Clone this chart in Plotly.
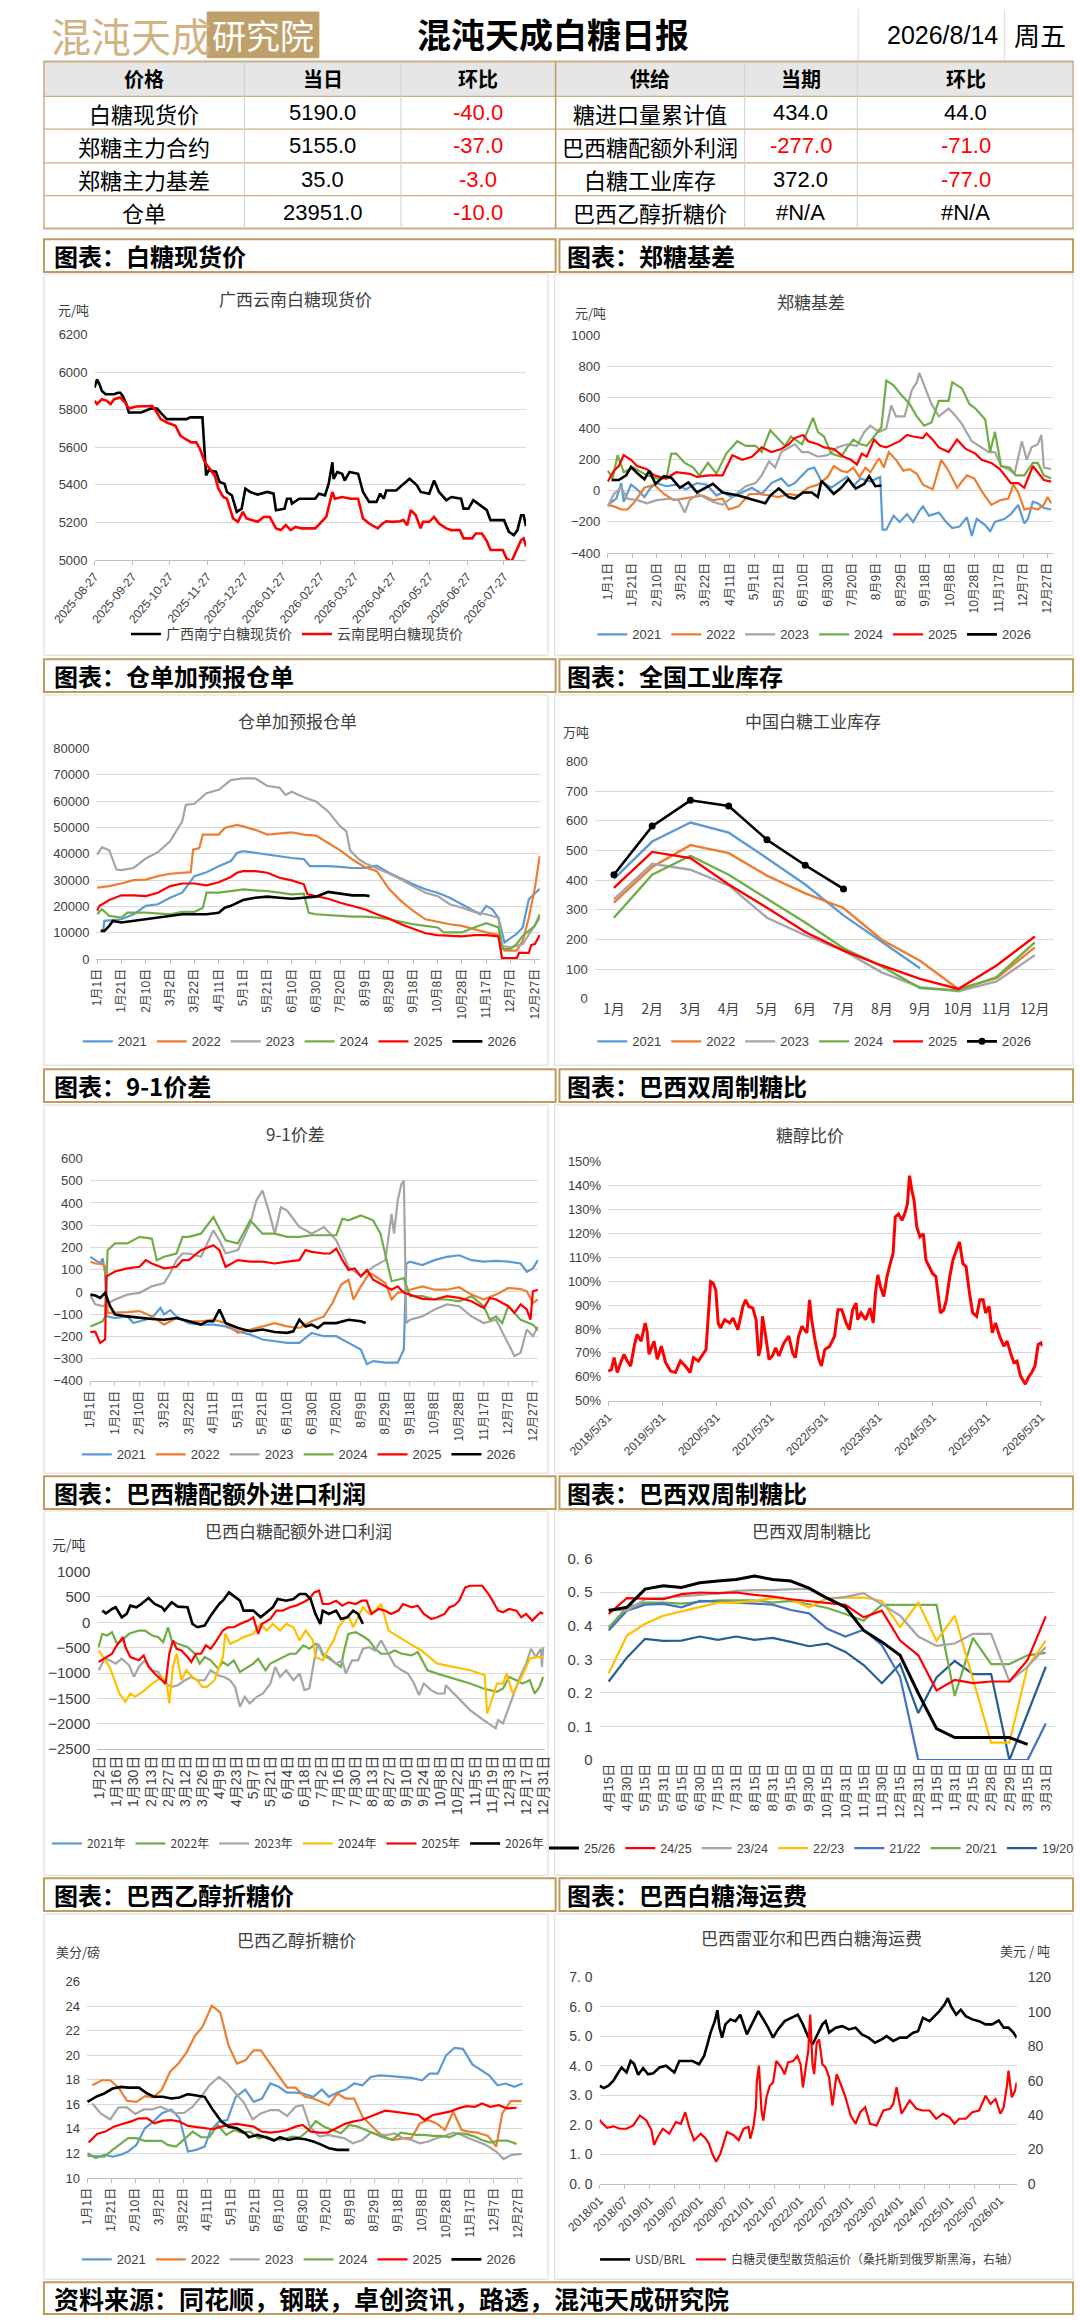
import plotly.graph_objects as go

# ======================= DATA =======================
# --- summary table ---
tbl_left_names = ["白糖现货价", "郑糖主力合约", "郑糖主力基差", "仓单"]
tbl_left_today = [5190.0, 5155.0, 35.0, 23951.0]
tbl_left_chg = [-40.0, -37.0, -3.0, -10.0]
tbl_right_names = ["糖进口量累计值", "巴西糖配额外利润", "白糖工业库存", "巴西乙醇折糖价"]
tbl_right_now = [434.0, -277.0, 372.0, None]
tbl_right_chg = [44.0, -71.0, -77.0, None]
report_date = "2026/8/14"
report_weekday = "周五"

# --- seasonal tick labels (day of year) ---
season_tick_days = [1, 21, 41, 61, 81, 101, 121, 141, 161, 181, 201, 221, 241, 261, 281, 301, 321, 341, 361]
season_tick_text = ["1月1日", "1月21日", "2月10日", "3月2日", "3月22日", "4月11日", "5月1日", "5月21日",
                    "6月10日", "6月30日", "7月20日", "8月9日", "8月29日", "9月18日", "10月8日", "10月28日",
                    "11月17日", "12月7日", "12月27日"]
years = ["2021", "2022", "2023", "2024", "2025", "2026"]

# --- chart 1: spot prices ---
c1_tick_dates = ["2025-08-27", "2025-09-27", "2025-10-27", "2025-11-27", "2025-12-27", "2026-01-27",
                 "2026-02-27", "2026-03-27", "2026-04-27", "2026-05-27", "2026-06-27", "2026-07-27"]
c1_nn_dates = ["2025-08-27", "2025-08-29", "2025-08-31", "2025-09-02", "2025-09-05", "2025-09-12", "2025-09-15",
               "2025-09-17", "2025-09-19", "2025-09-22", "2025-09-24", "2025-10-04", "2025-10-12", "2025-10-17",
               "2025-10-21", "2025-10-25", "2025-11-10", "2025-11-13", "2025-11-23", "2025-11-25", "2025-11-26",
               "2025-11-28", "2025-12-04", "2025-12-07", "2025-12-11", "2025-12-13", "2025-12-17", "2025-12-21",
               "2025-12-25", "2025-12-28", "2026-01-01", "2026-01-07", "2026-01-15", "2026-01-20", "2026-01-22",
               "2026-01-29", "2026-01-31", "2026-02-03", "2026-02-04", "2026-02-10", "2026-02-23", "2026-02-26",
               "2026-03-03", "2026-03-06", "2026-03-09", "2026-03-10", "2026-03-13", "2026-03-17", "2026-03-19",
               "2026-03-23", "2026-03-30", "2026-04-03", "2026-04-08", "2026-04-14", "2026-04-17", "2026-04-20",
               "2026-04-22", "2026-04-30", "2026-05-05", "2026-05-11", "2026-05-17", "2026-05-20", "2026-05-27",
               "2026-05-31", "2026-06-04", "2026-06-10", "2026-06-14", "2026-06-22", "2026-06-24", "2026-06-28",
               "2026-07-02", "2026-07-08", "2026-07-13", "2026-07-16", "2026-07-27", "2026-07-31", "2026-08-04",
               "2026-08-07", "2026-08-10", "2026-08-12", "2026-08-14"]
c1_nn_vals = [5918, 5962, 5935, 5900, 5882, 5882, 5890, 5890, 5873, 5830,
              5785, 5785, 5806, 5806, 5776, 5750, 5750, 5759, 5759, 5556,
              5450, 5476, 5470, 5415, 5406, 5362, 5344, 5256, 5273, 5379,
              5362, 5348, 5362, 5353, 5265, 5273, 5326, 5326, 5300, 5326,
              5326, 5353, 5344, 5406, 5520, 5432, 5468, 5459, 5423, 5468,
              5459, 5362, 5309, 5309, 5353, 5326, 5370, 5370, 5397, 5432,
              5397, 5362, 5353, 5423, 5362, 5318, 5335, 5326, 5273, 5273,
              5318, 5291, 5265, 5212, 5212, 5150, 5132, 5159, 5238, 5238, 5180]
c1_km_dates = ["2025-08-27", "2025-08-29", "2025-09-02", "2025-09-06", "2025-09-09", "2025-09-12", "2025-09-17",
               "2025-09-21", "2025-09-24", "2025-09-30", "2025-10-13", "2025-10-16", "2025-10-20", "2025-10-25",
               "2025-11-01", "2025-11-05", "2025-11-09", "2025-11-14", "2025-11-18", "2025-11-21", "2025-11-25",
               "2025-11-29", "2025-12-03", "2025-12-06", "2025-12-10", "2025-12-13", "2025-12-18", "2025-12-22",
               "2025-12-26", "2025-12-29", "2026-01-07", "2026-01-12", "2026-01-17", "2026-01-22", "2026-01-26",
               "2026-01-30", "2026-02-03", "2026-02-07", "2026-02-12", "2026-02-23", "2026-02-27", "2026-03-04",
               "2026-03-09", "2026-03-11", "2026-03-17", "2026-03-24", "2026-03-30", "2026-04-03", "2026-04-08",
               "2026-04-15", "2026-04-19", "2026-04-22", "2026-04-27", "2026-05-03", "2026-05-06", "2026-05-09",
               "2026-05-12", "2026-05-16", "2026-05-20", "2026-05-22", "2026-05-27", "2026-05-31", "2026-06-04",
               "2026-06-10", "2026-06-14", "2026-06-21", "2026-06-24", "2026-07-01", "2026-07-04", "2026-07-09",
               "2026-07-13", "2026-07-16", "2026-07-26", "2026-07-29", "2026-08-02", "2026-08-07", "2026-08-10",
               "2026-08-12", "2026-08-14"]
c1_km_vals = [5847, 5830, 5856, 5847, 5830, 5856, 5865, 5838, 5806, 5817,
              5820, 5794, 5750, 5732, 5715, 5662, 5644, 5626, 5626, 5591,
              5520, 5485, 5450, 5379, 5335, 5326, 5221, 5203, 5256, 5221,
              5203, 5229, 5229, 5168, 5159, 5185, 5159, 5176, 5168, 5168,
              5194, 5229, 5362, 5326, 5335, 5326, 5326, 5221, 5194, 5168,
              5194, 5206, 5203, 5206, 5212, 5185, 5265, 5238, 5168, 5203,
              5203, 5229, 5194, 5168, 5159, 5159, 5115, 5115, 5141, 5141,
              5100, 5053, 5053, 5009, 4990, 5062, 5106, 5115, 5071]

# --- chart 2: Zhengzhou basis (day of year, value) ---
c2_days = {
    "2021": [1, 8, 12, 14, 20, 25, 31, 36, 41, 49, 57, 65, 74, 82, 90, 95, 103, 111, 119, 127, 135, 143, 149, 154, 160,
             165, 170, 176, 184, 192, 197, 202, 208, 216, 221, 224, 226, 229, 235, 240, 246, 251, 256, 259, 264, 272,
             278, 283, 289, 295, 299, 303, 310, 314, 318, 326, 331, 337, 342, 345, 349, 353, 358, 364],
    "2022": [1, 6, 12, 17, 22, 31, 39, 47, 55, 63, 71, 79, 87, 95, 100, 108, 117, 125, 133, 141, 149, 157, 165, 173,
             181, 186, 192, 197, 202, 207, 212, 216, 223, 227, 231, 237, 243, 248, 254, 259, 267, 274, 280, 287, 295,
             301, 307, 315, 322, 329, 333, 337, 342, 348, 353, 358, 361, 364],
    "2023": [1, 6, 12, 17, 25, 33, 41, 52, 59, 64, 68, 75, 82, 87, 95, 106, 114, 122, 127, 133, 138, 143, 149, 154, 160,
             165, 173, 181, 189, 197, 205, 211, 216, 223, 229, 233, 237, 244, 250, 254, 256, 260, 266, 272, 280, 286,
             291, 299, 307, 313, 318, 323, 329, 334, 340, 344, 348, 353, 356, 358, 364],
    "2024": [1, 5, 9, 14, 22, 33, 41, 49, 53, 57, 64, 71, 76, 83, 90, 98, 107, 114, 122, 127, 134, 141, 146, 151, 160,
             169, 173, 178, 184, 192, 197, 202, 208, 213, 219, 225, 229, 235, 241, 248, 254, 260, 266, 272, 280, 283,
             291, 297, 302, 310, 314, 318, 323, 330, 335, 342, 349, 353, 358, 364],
    "2025": [1, 6, 10, 14, 20, 25, 33, 39, 49, 57, 68, 74, 84, 95, 103, 111, 119, 127, 135, 143, 149, 154, 161, 165,
             173, 178, 186, 194, 200, 205, 209, 213, 219, 224, 229, 235, 240, 246, 251, 259, 262, 267, 272, 280, 287,
             294, 302, 307, 315, 322, 326, 331, 337, 342, 349, 353, 358, 364],
    "2026": [4, 10, 16, 20, 25, 31, 35, 40, 47, 53, 60, 67, 74, 80, 87, 95, 102, 108, 117, 125, 130, 134, 141, 149,
             154, 161, 168, 173, 176, 182, 186, 192, 198, 204, 211, 215, 220, 225],
}
c2_vals = {
    "2021": [-90, -50, 50, -70, 40, 10, -40, 20, 50, 30, 40, 10, 50, 40, -30, -10, -40, -10, 20, -20, 50, 80, 30, 50,
             100, 140, 150, 60, 20, 60, 90, 30, 80, 60, 80, 90, -250, -250, -160, -200, -150, -200, -130, -100, -160,
             -140, -200, -240, -230, -170, -290, -180, -220, -260, -200, -180, -150, -90, -210, -180, -70, -80, -110,
             -120],
    "2022": [-90, -100, -120, -120, -80, 20, 40, -20, -60, -50, -40, -30, -60, -50, -120, -100, -20, -20, -30, -40, -20,
             -30, 20, 40, 90, 160, 130, 120, 150, 90, 150, 120, 210, 150, 250, 200, 130, 140, 110, 40, 10, 200, 130, 20,
             100, 80, 0, -90, -60, -50, 40, -10, -120, -110, -120, -90, -40, -80],
    "2023": [-100, -20, 20, -50, -60, -80, -60, -50, -60, -140, -60, -20, -50, -70, -90, -20, 30, 50, 100, 190, 150,
             250, 280, 300, 250, 250, 220, 230, 280, 300, 290, 380, 420, 380, 400, 550, 480, 480, 650, 700, 760, 680,
             560, 480, 530, 480, 430, 320, 280, 250, 250, 160, 140, 110, 320, 200, 280, 300, 360, 150, 140],
    "2024": [130, 80, 230, 120, 150, 100, 80, 80, 240, 240, 180, 150, 100, 180, 110, 240, 320, 290, 290, 250, 390, 330,
             290, 350, 300, 470, 380, 350, 240, 220, 280, 330, 300, 290, 350, 410, 710, 680, 620, 560, 480, 420, 440,
             580, 580, 700, 660, 560, 530, 460, 250, 380, 160, 150, 100, 100, 180, 180, 100, 80],
    "2025": [60, 130, 160, 230, 200, 160, 140, 100, 80, 120, 110, 90, 100, 100, 230, 200, 220, 280, 250, 270, 300, 340,
             360, 320, 300, 280, 270, 220, 200, 170, 240, 220, 330, 290, 280, 300, 320, 360, 350, 340, 370, 330, 280,
             250, 330, 270, 240, 200, 180, 140, 100, 50, 50, 20, 160, 120, 70, 60],
    "2026": [70, 70, 100, 155, 115, 75, 130, 45, 95, 85, 20, 55, -10, 15, 45, -10, -20, -30, -50, -70, -80, -30, 15,
             -40, -50, -10, -10, -40, 65, 15, -20, 20, 75, 15, 45, 95, 30, 35],
}

# --- chart 3: warehouse receipts + forecast ---
c3_days = {
    "2021": [4, 6, 7, 21, 31, 41, 51, 61, 71, 81, 91, 101, 111, 116, 121, 131, 141, 151, 161, 171, 176, 181, 191, 201,
             211, 221, 231, 241, 251, 261, 271, 281, 291, 301, 311, 316, 321, 326, 331, 336, 346, 351, 356, 361, 365],
    "2022": [1, 11, 21, 31, 41, 51, 61, 71, 78, 80, 85, 88, 101, 106, 116, 121, 131, 141, 151, 161, 171, 181, 191, 201,
             211, 221, 231, 236, 241, 251, 261, 271, 281, 291, 301, 311, 321, 331, 336, 346, 351, 356, 361, 365],
    "2023": [1, 5, 11, 17, 21, 31, 41, 51, 61, 71, 74, 81, 91, 101, 111, 121, 131, 141, 151, 156, 161, 171, 181, 191,
             201, 206, 209, 216, 221, 231, 241, 251, 261, 271, 281, 291, 301, 311, 321, 331, 334, 341, 351, 356, 361,
             365],
    "2024": [1, 5, 11, 21, 26, 41, 61, 71, 81, 88, 91, 101, 111, 121, 131, 141, 151, 161, 171, 175, 181, 191, 201, 211,
             221, 231, 241, 251, 261, 271, 281, 286, 301, 311, 321, 331, 334, 341, 346, 351, 356, 361, 365],
    "2025": [1, 3, 11, 21, 31, 41, 51, 61, 71, 81, 91, 101, 111, 116, 121, 131, 141, 151, 161, 171, 174, 181, 191, 201,
             211, 221, 231, 241, 251, 261, 271, 281, 291, 301, 311, 321, 331, 334, 346, 348, 356, 358, 361, 365],
    "2026": [4, 7, 11, 14, 21, 31, 41, 51, 61, 71, 81, 91, 101, 106, 111, 121, 131, 141, 151, 161, 171, 181, 191, 201,
             211, 221, 225],
}
c3_vals = {
    "2021": [10700, 10700, 14500, 15100, 17000, 20200, 20800, 23300, 25200, 31500, 33000, 35300, 37200, 40300, 41000,
             40300, 39700, 39100, 38400, 38000, 35300, 35300, 35300, 35000, 34600, 34600, 35500, 32800, 30500, 28400,
             26500, 25200, 23300, 20800, 18500, 17000, 20200, 18900, 15700, 6300, 9500, 12000, 22700, 24800, 26700],
    "2022": [27100, 27700, 28700, 30000, 30200, 31500, 32400, 32800, 33000, 41600, 42200, 47300, 47300, 49800, 51000,
             50400, 49100, 47300, 47600, 48100, 47300, 46900, 44100, 41300, 37800, 35000, 33400, 30200, 26700, 22000,
             18300, 15100, 14100, 13200, 12600, 11300, 10100, 9100, 3200, 3200, 6900, 15700, 27100, 39100],
    "2023": [39700, 42500, 41300, 34000, 33800, 34600, 38200, 40600, 44700, 52300, 58600, 59000, 63000, 64300, 68000,
             68700, 68700, 65800, 65100, 62400, 63600, 61500, 59900, 56100, 50400, 48500, 41300, 38000, 36500, 34600,
             32500, 30200, 27700, 25200, 23900, 20800, 19500, 17900, 17000, 15700, 5000, 4400, 5700, 9450, 13200,
             15700],
    "2024": [17000, 18900, 16400, 15700, 17600, 17600, 17000, 17900, 17900, 19500, 25200, 25200, 25800, 26500, 26100,
             25800, 25200, 24600, 24800, 17600, 17000, 16600, 16400, 16100, 16100, 15700, 15100, 14100, 13200, 12600,
             12000, 10100, 10100, 12000, 13600, 12000, 3800, 3800, 5700, 8800, 10700, 12600, 17000],
    "2025": [18300, 20200, 22400, 24200, 24200, 23900, 25200, 27700, 28700, 28700, 28000, 29200, 31200, 32800, 33400,
             33400, 32800, 30900, 29900, 28400, 24600, 23900, 22900, 21400, 20200, 18900, 17000, 15400, 13200, 11600,
             9800, 9100, 8800, 8600, 9100, 9100, 8600, 300, 300, 2300, 2300, 5300, 5700, 9100],
    "2026": [10700, 10700, 12600, 14500, 13900, 14500, 15100, 15700, 16400, 17000, 17000, 17000, 17600, 19500, 20200,
             22400, 23300, 23700, 23300, 22900, 23300, 23700, 25500, 24800, 24200, 24200, 23900],
}

# --- chart 4: industrial inventory (10k t), monthly ---
c4_months = ["1月", "2月", "3月", "4月", "5月", "6月", "7月", "8月", "9月", "10月", "11月", "12月"]
c4_vals = {
    "2021": [404, 530, 594, 560, 474, 385, 281, 192, 103],
    "2022": [324, 444, 518, 491, 415, 355, 306, 199, 128, 33, 69, 173],
    "2023": [335, 455, 435, 382, 273, 214, 162, 89, 39, 25, 58, 147],
    "2024": [273, 418, 482, 418, 337, 257, 170, 109, 36, 28, 73, 190],
    "2025": [374, 495, 474, 385, 307, 225, 162, 112, 67, 33, 112, 210],
    "2026": [418, 582, 669, 650, 536, 450, 370],
}

# --- chart 5: 9-1 spread ---
c5_days = {
    "2021": [1, 5, 9, 11, 13, 14, 21, 31, 36, 41, 51, 58, 61, 66, 71, 81, 91, 101, 111, 121, 131, 141, 151, 161, 171,
             181, 191, 201, 211, 221, 226, 231, 241, 251, 256, 258, 261, 271, 281, 291, 301, 311, 321, 331, 341, 351,
             356, 361, 365],
    "2022": [1, 5, 11, 13, 15, 21, 31, 41, 51, 61, 71, 81, 91, 101, 111, 121, 131, 141, 151, 161, 171, 181, 191, 198,
             205, 211, 215, 221, 228, 231, 241, 246, 251, 261, 271, 281, 291, 301, 311, 321, 331, 341, 351, 356, 361,
             365],
    "2023": [1, 5, 11, 21, 31, 41, 51, 61, 66, 71, 76, 81, 91, 101, 106, 111, 121, 131, 136, 141, 146, 151, 156, 161,
             171, 181, 186, 191, 201, 211, 221, 231, 241, 246, 248, 251, 254, 256, 258, 261, 271, 281, 291, 301, 311,
             321, 331, 341, 346, 351, 356, 361, 365],
    "2024": [1, 5, 11, 13, 15, 21, 31, 41, 51, 55, 61, 71, 76, 81, 91, 101, 111, 121, 131, 141, 151, 161, 171, 181, 191,
             201, 206, 211, 221, 231, 237, 241, 246, 251, 256, 261, 271, 281, 291, 301, 311, 321, 326, 331, 336, 341,
             351, 361, 365],
    "2025": [1, 5, 9, 13, 14, 21, 31, 41, 46, 51, 61, 71, 76, 81, 91, 101, 106, 111, 121, 131, 141, 151, 161, 171, 176,
             181, 191, 196, 201, 206, 211, 216, 221, 226, 231, 241, 246, 251, 256, 261, 271, 281, 291, 301, 311, 321,
             326, 331, 341, 346, 351, 356, 359, 361, 365],
    "2026": [1, 5, 9, 13, 17, 21, 31, 41, 51, 61, 71, 81, 91, 96, 101, 106, 111, 121, 131, 141, 151, 161, 166, 171, 176,
             181, 186, 191, 201, 211, 221, 225],
}
c5_vals = {
    "2021": [158, 143, 128, 151, 84, -110, -117, -110, -140, -132, -117, -72, -101, -82, -110, -140, -147, -147, -155,
             -177, -192, -214, -221, -229, -229, -184, -199, -199, -229, -259, -325, -311, -318, -318, -259, 128, 136,
             121, 143, 158, 165, 143, 136, 140, 136, 128, 91, 106, 143],
    "2022": [136, 128, 125, 113, -94, -94, -91, -86, -110, -147, -117, -132, -132, -125, -140, -184, -169, -155, -140,
             -155, -162, -132, -110, -49, 33, 55, -34, 25, 85, 77, 40, -34, -4, 10, 25, 10, 10, 21, -12, -34, -12, 18,
             13, 3, -49, -34],
    "2023": [-19, -56, -64, -34, -12, -4, 25, 40, 85, 143, 173, 173, 158, 277, 232, 173, 188, 307, 411, 456, 366, 262,
             381, 366, 292, 262, 277, 292, 232, 113, 70, 113, 143, 351, 262, 411, 485, 500, -140, -125, -110, -79, -56,
             -64, -110, -140, -125, -229, -288, -273, -169, -199, -155],
    "2024": [-155, -147, -132, -110, 188, 218, 218, 248, 240, 143, 158, 173, 248, 248, 262, 337, 232, 218, 322, 262,
             262, 248, 248, 255, 255, 255, 329, 322, 344, 322, 262, 173, 48, 55, 62, -19, -19, -34, -34, -42, -19, -64,
             -125, -110, -140, -64, -125, -147, -172],
    "2025": [-180, -180, -229, -214, 70, 92, 106, 113, 143, 128, 106, 113, 143, 143, 188, 210, 188, 113, 143, 136, 136,
             128, 136, 143, 188, 180, 173, 173, 195, 143, 99, 106, 70, 99, 55, 25, 10, 25, -4, -12, -31, -34, -19, -27,
             -42, -72, -27, -34, -64, -94, -56, -79, -125, 3, 10],
    "2026": [-12, -16, -27, -4, -64, -101, -110, -117, -122, -125, -117, -132, -147, -132, -132, -79, -140, -162, -177,
             -169, -180, -184, -177, -125, -155, -147, -162, -140, -140, -125, -132, -140],
}

# --- chart 6: sugar / ethanol price ratio (%) ---
c6_tick_dates = ["2018-05-31", "2019-05-31", "2020-05-31", "2021-05-31", "2022-05-31", "2023-05-31", "2024-05-31",
                 "2025-05-31", "2026-05-31"]
c6_tick_text = ["2018/5/31", "2019/5/31", "2020/5/31", "2021/5/31", "2022/5/31", "2023/5/31", "2024/5/31",
                "2025/5/31", "2026/5/31"]
c6_dates = ["2018-05-31", "2018-06-22", "2018-07-10", "2018-08-01", "2018-08-24", "2018-09-15", "2018-10-07",
            "2018-10-30", "2018-11-25", "2018-12-13", "2019-01-09", "2019-02-05", "2019-02-18", "2019-03-03",
            "2019-04-06", "2019-04-28", "2019-05-25", "2019-06-23", "2019-07-26", "2019-08-29", "2019-10-01",
            "2019-11-03", "2019-12-06", "2019-12-28", "2020-01-31", "2020-03-04", "2020-03-22", "2020-04-06",
            "2020-04-22", "2020-05-09", "2020-05-27", "2020-06-12", "2020-06-28", "2020-07-26", "2020-08-29",
            "2020-09-20", "2020-10-23", "2020-11-26", "2020-12-14", "2021-01-05", "2021-02-01", "2021-02-23",
            "2021-03-12", "2021-03-27", "2021-04-07", "2021-04-29", "2021-05-21", "2021-06-13", "2021-07-05",
            "2021-07-27", "2021-08-30", "2021-10-02", "2021-10-28", "2021-11-15", "2021-12-07", "2021-12-30",
            "2022-02-01", "2022-02-19", "2022-03-05", "2022-03-27", "2022-04-23", "2022-05-10", "2022-06-02",
            "2022-07-05", "2022-08-07", "2022-08-30", "2022-09-25", "2022-10-24", "2022-11-15", "2022-12-07",
            "2022-12-30", "2023-01-10", "2023-02-02", "2023-03-05", "2023-04-03", "2023-04-25", "2023-05-10",
            "2023-05-26", "2023-06-13", "2023-07-05", "2023-07-27", "2023-08-18", "2023-09-06", "2023-09-21",
            "2023-10-13", "2023-11-05", "2023-11-27", "2023-12-12", "2023-12-26", "2024-01-11", "2024-01-26",
            "2024-02-13", "2024-03-06", "2024-03-28", "2024-04-15", "2024-05-07", "2024-05-29", "2024-06-21",
            "2024-07-06", "2024-07-22", "2024-08-13", "2024-08-31", "2024-09-23", "2024-10-14", "2024-11-06",
            "2024-11-28", "2024-12-20", "2025-01-11", "2025-02-03", "2025-02-25", "2025-03-23", "2025-04-14",
            "2025-05-06", "2025-05-23", "2025-06-15", "2025-07-07", "2025-07-29", "2025-08-25", "2025-09-23",
            "2025-10-15", "2025-11-07", "2025-11-29", "2025-12-21", "2026-01-13", "2026-02-15", "2026-03-08",
            "2026-03-30", "2026-04-21", "2026-05-13", "2026-05-31", "2026-06-11"]
c6_vals = [62.4, 63, 68, 61.8, 66, 69.4, 66.6, 64.5, 73.5, 77.7,
           74.9, 82.5, 79, 69.4, 74.9, 67.3, 72.8, 66, 62.4, 61.8,
           66.6, 64.5, 61.8, 68, 66.6, 70, 71.4, 85.3, 99.8, 99.1,
           96.3, 82.5, 80.4, 83.9, 82.5, 84.6, 79.7, 89.4, 92.2, 89.4,
           88.7, 83.9, 68.7, 72.8, 85.3, 77, 67.3, 68.7, 72.1, 68.7,
           74.2, 77, 70, 68, 77, 81.1, 78.4, 92.2, 83.9, 75.6,
           67.3, 64.5, 71.4, 72.8, 77, 88, 88, 82.5, 79.7, 88,
           90.8, 83.9, 86.7, 83.9, 88.7, 82.5, 95, 102.6, 97.7, 93.6,
           101.9, 107.4, 111.5, 126.8, 128.1, 125.4, 128.8, 132.3, 144.1, 137.8,
           133.7, 122.6, 118.5, 119.8, 108.8, 106, 103.2, 101.9, 93.6, 86.7,
           88, 92.2, 101.9, 108.8, 112.9, 116.4, 107.4, 106, 94.9, 86.7,
           85.3, 92.2, 92.2, 86.7, 89.4, 78.4, 82.5, 77, 72.8, 74.9,
           70, 66, 66.6, 60.4, 56.9, 59.8, 61.8, 64.5, 73.5, 74.2, 72.8]

# --- chart 7: Brazil out-of-quota import profit (leap-year day of year) ---
c7_tick_days = [2, 16, 30, 44, 58, 72, 86, 100, 114, 128, 142, 156, 170, 184, 198, 212, 226, 240, 254, 268, 282,
                296, 310, 324, 338, 352, 366]
c7_tick_text = ["1月2日", "1月16日", "1月30日", "2月13日", "2月27日", "3月12日", "3月26日", "4月9日", "4月23日",
                "5月7日", "5月21日", "6月4日", "6月18日", "7月2日", "7月16日", "7月30日", "8月13日", "8月27日",
                "9月10日", "9月24日", "10月8日", "10月22日", "11月5日", "11月19日", "12月3日", "12月17日", "12月31日"]
c7_names = ["2021年", "2022年", "2023年", "2024年", "2025年", "2026年"]
c7_days = {
    "2021年": [],
    "2022年": [1, 4, 8, 12, 16, 20, 26, 34, 39, 45, 50, 54, 58, 61, 66, 74, 80, 84, 88, 93, 99, 103, 107, 112, 117,
              123, 128, 132, 138, 142, 147, 152, 158, 163, 169, 174, 179, 182, 185, 190, 196, 200, 202, 206, 212, 217,
              223, 228, 233, 239, 244, 250, 258, 263, 271, 279, 293, 306, 317, 328, 333, 338, 344, 349, 355, 359, 363,
              366],
    "2023年": [1, 6, 10, 15, 20, 26, 30, 34, 39, 45, 50, 55, 61, 66, 72, 77, 82, 88, 93, 99, 104, 109, 113, 117, 121,
              125, 131, 136, 142, 146, 150, 155, 161, 166, 170, 174, 178, 181, 185, 190, 196, 201, 204, 209, 214, 218,
              223, 228, 233, 239, 244, 250, 255, 260, 264, 268, 274, 279, 285, 286, 295, 306, 317, 327, 329, 333, 337,
              341, 347, 352, 356, 360, 364, 365, 366],
    "2024年": [1, 6, 10, 14, 18, 23, 27, 31, 37, 45, 53, 57, 59, 62, 65, 69, 73, 78, 82, 86, 90, 96, 103, 105, 109,
              115, 120, 128, 134, 139, 144, 150, 155, 161, 166, 171, 177, 179, 185, 189, 194, 198, 202, 206, 210, 214,
              218, 223, 228, 233, 239, 252, 266, 279, 293, 306, 318, 320, 322, 328, 333, 336, 341, 347, 352, 355, 360,
              366],
    "2025年": [1, 7, 12, 15, 19, 21, 23, 27, 34, 38, 42, 47, 53, 56, 59, 62, 65, 69, 74, 77, 81, 85, 89, 93, 97, 103,
              107, 112, 117, 124, 128, 132, 135, 142, 147, 152, 158, 163, 169, 174, 178, 182, 185, 190, 196, 201, 206,
              212, 217, 221, 225, 231, 236, 241, 247, 251, 258, 263, 268, 274, 279, 285, 289, 293, 297, 302, 306, 316,
              322, 329, 333, 338, 344, 348, 352, 357, 361, 364, 366],
    "2026年": [4, 7, 12, 15, 20, 24, 27, 32, 36, 42, 47, 53, 55, 61, 66, 74, 78, 82, 88, 93, 100, 103, 108, 112, 117,
              120, 128, 134, 139, 144, 148, 155, 161, 166, 171, 175, 179, 183, 185, 190, 196, 200, 205, 210, 214, 218],
}
c7_vals = {
    "2021年": [],
    "2022年": [-489, -228, -261, -195, -424, -358, -228, -163, -163, -261, -293, -391, -98, -358, -424, -489, -620,
              -815, -685, -750, -913, -783, -848, -750, -979, -881, -815, -717, -946, -815, -750, -685, -620, -620,
              -456, -522, -424, -456, -620, -685, -815, -881, -620, -228, -195, -261, -358, -522, -620, -620, -555,
              -620, -652, -587, -946, -1011, -1109, -1207, -1305, -1370, -1305, -1077, -1142, -1207, -1142, -1403,
              -1272, -1077],
    "2023年": [-946, -717, -750, -815, -717, -848, -1077, -881, -750, -946, -979, -1207, -1272, -1240, -1142, -1077,
              -1142, -1142, -946, -1044, -1077, -1142, -1272, -1664, -1468, -1599, -1468, -1403, -1207, -881, -1077,
              -946, -1142, -1011, -1338, -1305, -750, -424, -652, -717, -815, -750, -1011, -750, -750, -522, -489,
              -555, -358, -620, -848, -946, -1011, -1207, -1436, -1207, -1338, -1403, -1403, -1240, -1468, -1730,
              -1926, -2089, -1926, -1991, -1730, -1468, -1077, -815, -522, -685, -522, -881, -489],
    "2024年": [-555, -750, -881, -1142, -1403, -1566, -1403, -1468, -1370, -1207, -1077, -1207, -1599, -881, -620,
              -1142, -946, -1077, -1142, -1272, -1272, -1142, -685, -228, -424, -358, -293, -228, -33, -163, -33, -163,
              -33, -98, -358, -163, -358, -685, -750, -555, -358, -98, 33, 131, -98, 98, 295, 164, 229, 360, -163,
              -358, -555, -815, -881, -946, -1044, -1795, -1664, -1207, -1207, -1011, -1403, -1142, -881, -717, -685,
              -685],
    "2025年": [-783, -685, -620, -489, -358, -293, -489, -685, -750, -652, -881, -1011, -1142, -1207, -620, -358, -522,
              -555, -685, -783, -620, -620, -456, -522, -391, -163, -98, -98, -33, 33, 98, -228, -33, 65, 229, 229,
              295, 327, 393, 458, 589, 621, 360, 360, 425, 327, 393, 360, 425, 425, 164, 262, 229, 164, 229, 360, 295,
              327, 164, 65, 98, 164, 295, 327, 425, 687, 719, 719, 523, 229, 196, 262, 229, 98, 164, 33, 131, 196,
              164],
    "2026年": [229, 176, 262, 295, 98, 164, 327, 295, 360, 478, 360, 295, 229, 393, 308, 295, -33, -98, -65, 131, 360,
              425, 589, 523, 425, 229, 229, 98, 196, 295, 458, 425, 458, 556, 556, 458, 164, -33, 229, 164, 229, 65,
              98, 229, 164, -33],
}

# --- chart 8: Brazil bi-weekly sugar mix ---
c8_periods = ["4月15日", "4月30日", "5月15日", "5月31日", "6月15日", "6月30日", "7月15日", "7月31日", "8月15日",
              "8月31日", "9月15日", "9月30日", "10月15日", "10月31日", "11月15日", "11月30日", "12月15日", "12月31日",
              "1月15日", "1月31日", "2月15日", "2月28日", "2月29日", "3月15日", "3月31日"]
c8_seasons = ["25/26", "24/25", "23/24", "22/23", "21/22", "20/21", "19/20"]
c8_vals = {
    "25/26": [0.445, 0.455, 0.509, 0.519, 0.514, 0.528, 0.533, 0.538, 0.548, 0.538, 0.533, 0.512, 0.482, 0.455,
              0.386, 0.352, 0.312, 0.199, 0.094, 0.067, 0.067, 0.067, 0.067, 0.047],
    "24/25": [0.435, 0.482, 0.481, 0.479, 0.494, 0.499, 0.497, 0.499, 0.492, 0.487, 0.479, 0.474, 0.469, 0.462,
              0.425, 0.445, 0.356, 0.312, 0.207, 0.239, 0.229, 0.234, 0.234, 0.298, 0.428],
    "23/24": [0.45, 0.445, 0.479, 0.484, 0.489, 0.492, 0.496, 0.504, 0.506, 0.506, 0.509, 0.509, 0.479, 0.486,
              0.497, 0.464, 0.43, 0.368, 0.34, 0.347, 0.376, 0.376, 0.234, 0.278, 0.337],
    "22/23": [0.258, 0.371, 0.406, 0.43, 0.443, 0.455, 0.469, 0.469, 0.474, 0.482, 0.479, 0.455, 0.482, 0.484,
              0.484, 0.474, 0.396, 0.469, 0.355, 0.43, 0.239, 0.052, 0.052, 0.278, 0.356],
    "21/22": [0.386, 0.445, 0.463, 0.465, 0.455, 0.474, 0.472, 0.469, 0.466, 0.463, 0.447, 0.437, 0.391, 0.368,
              0.388, 0.342, 0.248, 0.0, 0.0, 0.0, 0.0, 0.0, 0.0, 0.0, 0.109],
    "20/21": [0.394, 0.455, 0.469, 0.469, 0.466, 0.472, 0.476, 0.476, 0.476, 0.469, 0.474, 0.464, 0.453, 0.435,
              0.415, 0.462, 0.462, 0.462, 0.462, 0.191, 0.364, 0.286, 0.286, 0.312, 0.319],
    "19/20": [0.234, 0.305, 0.361, 0.355, 0.356, 0.368, 0.358, 0.368, 0.358, 0.364, 0.352, 0.339, 0.347, 0.322,
              0.283, 0.229, 0.286, 0.14, 0.246, 0.295, 0.256, 0.256, 0.0, 0.14, 0.278],
}

# --- chart 9: Brazil ethanol-equivalent sugar price (US cents/lb) ---
c9_days = {
    "2021": [1, 8, 15, 22, 29, 35, 42, 49, 56, 63, 71, 78, 85, 92, 99, 104, 111, 118, 125, 133, 140, 147, 154, 161,
             168, 175, 181, 190, 197, 203, 210, 217, 224, 231, 238, 245, 252, 258, 265, 272, 281, 287, 294, 301, 308,
             315, 323, 330, 337, 344, 351, 358, 365],
    "2022": [5, 13, 20, 27, 34, 42, 49, 56, 63, 70, 77, 84, 91, 97, 105, 112, 119, 126, 133, 140, 146, 154, 161, 168,
             175, 183, 190, 197, 203, 210, 217, 224, 231, 238, 245, 252, 258, 265, 272, 279, 286, 293, 300, 307, 314,
             320, 327, 336, 343, 348, 355, 364],
    "2023": [5, 12, 20, 27, 34, 41, 48, 55, 62, 68, 75, 82, 89, 96, 103, 111, 118, 125, 132, 139, 146, 154, 161, 168,
             175, 181, 187, 195, 202, 209, 216, 223, 231, 238, 245, 252, 258, 265, 272, 279, 286, 293, 300, 307, 314,
             320, 327, 334, 343, 349, 356, 364],
    "2024": [1, 8, 15, 22, 29, 35, 42, 49, 56, 63, 68, 75, 82, 89, 96, 103, 110, 117, 124, 130, 137, 144, 151, 158,
             165, 172, 179, 186, 192, 199, 206, 213, 220, 227, 234, 241, 247, 256, 263, 270, 276, 283, 290, 297, 304,
             311, 318, 325, 331, 338, 345, 352, 360],
    "2025": [2, 9, 16, 23, 30, 37, 44, 51, 57, 64, 71, 78, 85, 92, 99, 106, 113, 119, 126, 133, 140, 147, 154, 161,
             168, 175, 181, 188, 195, 202, 209, 216, 223, 230, 236, 243, 250, 257, 264, 271, 278, 283, 290, 297, 304,
             311, 318, 325, 331, 338, 345, 352, 360],
    "2026": [1, 8, 15, 22, 29, 35, 44, 51, 57, 64, 71, 78, 85, 92, 99, 106, 113, 119, 126, 133, 136, 143, 150, 157,
             162, 169, 176, 183, 190, 197, 203, 210, 220],
}
c9_vals = {
    "2021": [12.02, 11.62, 11.89, 11.75, 11.89, 12.16, 12.7, 14.05, 14.59, 15.26, 15.58, 14.86, 12.16, 12.29, 12.56,
             13.91, 14.59, 14.72, 16.61, 17.2, 16.2, 16.47, 17.7, 17.43, 16.95, 16.95, 16.88, 16.61, 17.2, 16.61,
             16.95, 17.2, 17.69, 17.55, 18.23, 18.36, 18.31, 18.28, 18.23, 18.15, 17.96, 18.5, 18.5, 19.98, 20.6,
             20.52, 19.25, 18.77, 18.36, 17.55, 17.69, 17.42, 17.69],
    "2022": [17.55, 17.96, 17.96, 17.36, 16.29, 16.2, 16.66, 16.56, 17.15, 18.63, 19.31, 20.25, 21.6, 22.28, 24.03,
             23.49, 20.79, 19.31, 19.58, 20.39, 20.39, 19.31, 18.36, 17.36, 17.36, 16.61, 16.47, 16.2, 15.93, 16.88,
             16.47, 16.47, 14.99, 14.32, 13.64, 13.24, 13.1, 13.24, 13.24, 14.45, 14.72, 14.45, 13.91, 15.4, 13.91,
             13.78, 13.7, 13.43, 12.56, 15.26, 16.26, 16.26],
    "2023": [16.07, 15.26, 14.77, 15.75, 15.75, 15.21, 15.58, 15.58, 15.8, 15.53, 15.26, 15.31, 15.8, 16.61, 17.55,
             18.23, 17.69, 16.88, 16.12, 14.77, 15.26, 15.53, 15.53, 15.04, 15.8, 15.93, 14.18, 13.37, 13.51, 13.37,
             13.24, 12.83, 13.1, 13.7, 13.51, 13.51, 13.64, 13.24, 13.1, 12.83, 12.97, 13.24, 13.43, 13.7, 13.51,
             13.24, 12.97, 12.7, 12.16, 11.54, 11.89, 11.97],
    "2024": [11.81, 11.75, 11.75, 12.29, 12.83, 13.24, 13.24, 13.02, 13.02, 13.02, 12.7, 12.56, 13.16, 13.78, 13.32,
             13.32, 14.32, 13.51, 13.91, 13.7, 13.78, 13.24, 13.37, 13.1, 13.16, 13.37, 13.32, 13.91, 14.64, 14.18,
             13.91, 13.64, 14.32, 14.18, 13.91, 13.64, 13.37, 13.1, 13.7, 13.59, 13.51, 13.51, 13.43, 13.43, 13.32,
             13.64, 13.59, 13.37, 13.1, 12.89, 13.05, 13.05, 12.78],
    "2025": [12.89, 13.59, 13.78, 14.18, 14.4, 14.59, 14.86, 14.86, 14.45, 14.67, 14.72, 14.59, 14.24, 14.13, 14.05,
             13.97, 14.18, 14.32, 14.4, 14.32, 14.18, 13.78, 13.7, 13.78, 13.91, 14.18, 14.32, 13.78, 13.7, 13.7,
             14.05, 14.4, 14.59, 14.72, 14.94, 15.21, 15.48, 15.4, 15.31, 15.26, 15.13, 14.72, 15.13, 15.26, 15.4,
             15.67, 15.85, 15.8, 16.07, 15.8, 15.93, 15.67, 15.72],
    "2026": [16.2, 16.61, 16.88, 17.28, 17.42, 17.36, 17.36, 16.88, 16.61, 16.61, 16.47, 16.56, 16.83, 16.74, 16.61,
             15.53, 14.59, 14.18, 14.05, 13.64, 13.32, 13.51, 13.32, 13.05, 13.32, 13.1, 13.24, 13.16, 12.97, 12.7,
             12.43, 12.29, 12.29],
}

# --- chart 10: USD/BRL and freight ---
c10_tick_dates = ["2018-01-01", "2018-07-01", "2019-01-01", "2019-07-01", "2020-01-01", "2020-07-01", "2021-01-01",
                  "2021-07-01", "2022-01-01", "2022-07-01", "2023-01-01", "2023-07-01", "2024-01-01", "2024-07-01",
                  "2025-01-01", "2025-07-01", "2026-01-01"]
c10_tick_text = ["2018/01", "2018/07", "2019/01", "2019/07", "2020/01", "2020/07", "2021/01", "2021/07", "2022/01",
                 "2022/07", "2023/01", "2023/07", "2024/01", "2024/07", "2025/01", "2025/07", "2026/01"]
c10_brl_dates = ["2018-01-01", "2018-02-01", "2018-03-07", "2018-04-12", "2018-05-18", "2018-06-11", "2018-07-17",
                 "2018-08-16", "2018-09-09", "2018-10-10", "2018-11-15", "2018-12-21", "2019-01-27", "2019-03-14",
                 "2019-05-01", "2019-07-01", "2019-08-06", "2019-09-23", "2019-11-10", "2019-12-28", "2020-02-03",
                 "2020-02-27", "2020-03-21", "2020-04-21", "2020-05-10", "2020-05-25", "2020-06-13", "2020-07-07",
                 "2020-08-13", "2020-09-18", "2020-10-24", "2020-12-11", "2021-01-17", "2021-03-04", "2021-04-10",
                 "2021-05-15", "2021-06-20", "2021-07-26", "2021-09-13", "2021-11-01", "2021-12-18", "2022-01-24",
                 "2022-03-01", "2022-04-04", "2022-05-10", "2022-06-15", "2022-07-09", "2022-08-03", "2022-09-20",
                 "2022-11-07", "2022-12-25", "2023-02-12", "2023-03-30", "2023-05-17", "2023-07-04", "2023-08-22",
                 "2023-09-27", "2023-11-14", "2024-01-02", "2024-02-19", "2024-04-07", "2024-05-13", "2024-06-18",
                 "2024-08-05", "2024-09-10", "2024-10-16", "2024-11-22", "2024-12-16", "2025-01-09", "2025-02-15",
                 "2025-03-21", "2025-04-26", "2025-06-13", "2025-08-01", "2025-09-18", "2025-11-05", "2025-12-23",
                 "2026-01-28", "2026-03-04", "2026-04-09", "2026-05-03"]
c10_brl_vals = [3.33, 3.25, 3.33, 3.5, 3.78, 3.95, 3.78, 4.17, 4.08, 3.7,
                3.93, 3.72, 3.75, 3.95, 4.01, 3.78, 4.17, 4.17, 4.17, 4.06,
                4.34, 4.73, 5.13, 5.52, 5.89, 5.3, 4.96, 5.41, 5.58, 5.52,
                5.74, 5.07, 5.43, 5.86, 5.58, 5.3, 4.96, 5.24, 5.52, 5.63,
                5.74, 5.41, 5.01, 4.73, 5.07, 5.41, 5.52, 5.13, 5.3, 5.35,
                5.24, 5.3, 5.07, 4.96, 4.79, 4.9, 5.01, 4.85, 4.96, 4.96,
                5.13, 5.18, 5.63, 5.52, 5.69, 5.86, 6.08, 6.3, 6.02, 5.74,
                5.91, 5.69, 5.58, 5.52, 5.41, 5.41, 5.54, 5.3, 5.3, 5.13, 4.96]
c10_frt_dates = ["2018-01-01", "2018-01-20", "2018-02-25", "2018-04-12", "2018-05-30", "2018-07-17", "2018-09-04",
                 "2018-10-22", "2018-12-09", "2019-01-15", "2019-02-03", "2019-03-02", "2019-04-07", "2019-05-25",
                 "2019-07-12", "2019-08-18", "2019-09-18", "2019-10-17", "2019-11-22", "2020-01-10", "2020-02-15",
                 "2020-03-09", "2020-04-02", "2020-05-01", "2020-06-01", "2020-07-19", "2020-09-06", "2020-10-12",
                 "2020-11-17", "2020-12-23", "2021-01-05", "2021-01-29", "2021-02-15", "2021-02-22", "2021-03-09",
                 "2021-03-28", "2021-04-10", "2021-05-03", "2021-05-27", "2021-06-20", "2021-07-14", "2021-08-20",
                 "2021-09-13", "2021-10-07", "2021-11-13", "2021-12-14", "2022-01-07", "2022-01-24", "2022-02-17",
                 "2022-03-04", "2022-03-18", "2022-04-04", "2022-04-16", "2022-05-05", "2022-05-22", "2022-06-15",
                 "2022-07-09", "2022-08-03", "2022-08-27", "2022-09-27", "2022-10-26", "2022-12-01", "2023-01-07",
                 "2023-02-12", "2023-03-18", "2023-04-23", "2023-05-29", "2023-07-16", "2023-09-03", "2023-10-21",
                 "2023-11-14", "2023-12-08", "2024-01-14", "2024-03-13", "2024-05-01", "2024-06-18", "2024-08-05",
                 "2024-09-22", "2024-11-10", "2024-12-28", "2025-02-03", "2025-03-09", "2025-04-26", "2025-06-13",
                 "2025-08-01", "2025-09-18", "2025-10-24", "2025-11-29", "2026-01-04", "2026-01-28", "2026-02-21",
                 "2026-03-04", "2026-03-28", "2026-04-21", "2026-05-03"]
c10_frt_vals = [37.3, 35.4, 32.7, 33.5, 32.1, 32.1, 34, 39.8, 36.9, 31.2,
                22.7, 27.3, 32.1, 29.2, 36, 35, 41.7, 33.1, 25.4, 29.2,
                26.3, 23.5, 17.7, 12.9, 17.7, 30.2, 28.3, 25.4, 32.1, 33.1,
                26.3, 34, 44.6, 60, 68.7, 42.7, 36.9, 50.4, 57.1, 59,
                71.5, 67.7, 63.8, 70.6, 71.5, 74.4, 69.6, 56.2, 69.6, 77.3,
                98.5, 69.6, 63.8, 82.1, 84, 69.6, 67.7, 61.9, 45.6, 63.8,
                58.1, 50.4, 39.8, 35, 41.7, 44.6, 35, 34, 42.7, 43.7,
                46.5, 56.2, 40.8, 48.5, 43.7, 42.7, 42.7, 37.9, 40.8, 38.8,
                35, 37.9, 37.9, 41.7, 42.7, 51.3, 46.5, 49.4, 40.8, 44.6,
                57.1, 65.8, 50.4, 54.2, 59]

# ======================= STYLE / LAYOUT =======================
W, H = 1080, 2324


def X(px):
    return px / W


def Y(py):
    return 1 - py / H


NUM = "Liberation Sans, Noto Sans CJK SC, sans-serif"
CJK = "Noto Sans CJK SC, Liberation Sans, sans-serif"
TAN = "#bf9b5e"
GRID = "#d9d9d9"
TXT = "#404040"
YEAR_COLORS = {"2021": "#5b9bd5", "2022": "#ed7d31", "2023": "#a5a5a5", "2024": "#70ad47", "2025": "#ff0000",
               "2026": "#000000"}
C7_COLORS = {"2021年": "#5b9bd5", "2022年": "#70ad47", "2023年": "#a5a5a5", "2024年": "#ffc000", "2025年": "#ff0000",
             "2026年": "#000000"}
C8_COLORS = {"25/26": "#000000", "24/25": "#ff0000", "23/24": "#a5a5a5", "22/23": "#ffc000", "21/22": "#4472c4",
             "20/21": "#70ad47", "19/20": "#255e91"}

# plot areas (px): x0, x1, y0(top), y1(bottom)
AREAS = {
    1: (54, 506, 328, 555),
    2: (591, 1058, 329, 548),
    3: (56, 521, 745, 957),
    4: (578, 1059, 758, 997),
    5: (49, 519, 1158, 1382),
    6: (592, 1047, 1161, 1402),
    7: (57, 526, 1574, 1753),
    8: (583, 1060, 1561, 1764),
    9: (46, 503, 1987, 2185),
    10: (583, 1020, 1983, 2191),
}

fig = go.Figure()


def ax(i):
    return ("x" if i == 1 else f"x{i}"), ("y" if i == 1 else f"y{i}")


def lg(i):
    return "legend" if i == 1 else f"legend{i}"


def add(i, x, y, name, color, width=2.2, show=True, yaxis=None, mode="lines", marker=None):
    xa, ya = ax(i)
    kw = dict(x=x, y=y, name=name, mode=mode, line=dict(color=color, width=width),
              xaxis=xa, yaxis=yaxis or ya, showlegend=show, legend=lg(i) if show else "legend",
              hoverinfo="skip", connectgaps=True)
    if marker:
        kw["marker"] = marker
    fig.add_trace(go.Scatter(**kw))


# chart 1
add(1, c1_nn_dates, c1_nn_vals, "广西南宁白糖现货价", "#000000", 2.6)
add(1, c1_km_dates, c1_km_vals, "云南昆明白糖现货价", "#ff0000", 2.6)
# chart 2
for yr in years:
    add(2, c2_days[yr], c2_vals[yr], yr, YEAR_COLORS[yr], 2.6 if yr == "2026" else 2.2)
# chart 3
for yr in years:
    add(3, c3_days[yr], c3_vals[yr], yr, YEAR_COLORS[yr], 2.6 if yr == "2026" else 2.2)
# chart 4
for yr in years:
    if yr == "2026":
        add(4, c4_months[:len(c4_vals[yr])], c4_vals[yr], yr, "#000000", 2.6, mode="lines+markers",
            marker=dict(size=7, color="#000000"))
    else:
        add(4, c4_months[:len(c4_vals[yr])], c4_vals[yr], yr, YEAR_COLORS[yr], 2.4)
# chart 5
for yr in years:
    add(5, c5_days[yr], c5_vals[yr], yr, YEAR_COLORS[yr], 2.6 if yr == "2026" else 2.2)
# chart 6
add(6, c6_dates, c6_vals, "糖醇比价", "#ff0000", 3.0, show=False)
# chart 7
for nm in c7_names:
    xs = c7_days[nm] if c7_days[nm] else [None]
    ys = c7_vals[nm] if c7_vals[nm] else [None]
    add(7, xs, ys, nm, C7_COLORS[nm], 2.6 if nm == "2026年" else 2.2)
# chart 8 (drawn oldest first so 25/26 sits on top; legend reversed)
for ss in reversed(c8_seasons):
    vals = c8_vals[ss]
    add(8, c8_periods[:len(vals)], vals, ss, C8_COLORS[ss], 3.0 if ss == "25/26" else 2.2)
# chart 9
for yr in years:
    add(9, c9_days[yr], c9_vals[yr], yr, YEAR_COLORS[yr], 2.6 if yr == "2026" else 2.2)
# chart 10
add(10, c10_brl_dates, c10_brl_vals, "USD/BRL", "#000000", 2.6)
add(10, c10_frt_dates, c10_frt_vals, "白糖灵便型散货船运价（桑托斯到俄罗斯黑海，右轴）", "#ff0000", 2.2,
    yaxis="y11")

layout = dict(width=W, height=H, margin=dict(l=0, r=0, t=0, b=0), paper_bgcolor="white", plot_bgcolor="white",
              font=dict(family=NUM, color=TXT), showlegend=True)


def xaxis_base(i, **kw):
    x0, x1, y0, y1 = AREAS[i]
    d = dict(domain=[X(x0), X(x1)], anchor=ax(i)[1], showgrid=False, zeroline=False, showline=True,
             linecolor="#bfbfbf", linewidth=1, ticks="outside", ticklen=4, tickcolor="#bfbfbf",
             tickfont=dict(family=NUM, size=12, color=TXT), fixedrange=True)
    d.update(kw)
    return d


def yaxis_base(i, **kw):
    x0, x1, y0, y1 = AREAS[i]
    d = dict(domain=[Y(y1), Y(y0)], anchor=ax(i)[0], showgrid=True, gridcolor=GRID, gridwidth=1,
             zeroline=False, showline=False, ticks="", tickfont=dict(family=NUM, size=13, color=TXT),
             ticklabelstandoff=6, fixedrange=True)
    d.update(kw)
    return d


def key(prefix, i):
    return prefix if i == 1 else f"{prefix}{i}"


season_x = dict(type="linear", range=[0.5, 365.5], tickmode="array", tickvals=season_tick_days,
                ticktext=season_tick_text, tickangle=-90)

layout[key("xaxis", 1)] = xaxis_base(1, type="date", range=["2025-08-27", "2026-08-14"], tickmode="array",
                                     tickvals=c1_tick_dates, ticktext=c1_tick_dates, tickangle=-50)
layout[key("yaxis", 1)] = yaxis_base(1, range=[5000, 6200], dtick=200)
layout[key("xaxis", 2)] = xaxis_base(2, **season_x)
layout[key("yaxis", 2)] = yaxis_base(2, range=[-400, 1000], dtick=200)
layout[key("xaxis", 3)] = xaxis_base(3, **season_x)
layout[key("yaxis", 3)] = yaxis_base(3, range=[0, 80000], dtick=10000, tickformat="d")
layout[key("xaxis", 4)] = xaxis_base(4, type="category", categoryorder="array", categoryarray=c4_months,
                                     range=[-0.5, 11.5], ticks="", showline=False,
                                     tickfont=dict(family=CJK, size=14, color=TXT))
layout[key("yaxis", 4)] = yaxis_base(4, range=[0, 800], dtick=100)
layout[key("xaxis", 5)] = xaxis_base(5, **season_x)
layout[key("yaxis", 5)] = yaxis_base(5, range=[-400, 600], dtick=100)
layout[key("xaxis", 6)] = xaxis_base(6, type="date", range=["2018-05-31", "2026-06-11"], tickmode="array",
                                     tickvals=c6_tick_dates, ticktext=c6_tick_text, tickangle=-45)
layout[key("yaxis", 6)] = yaxis_base(6, range=[50, 150], dtick=10, ticksuffix="%")
layout[key("xaxis", 7)] = xaxis_base(7, type="linear", range=[0, 367.6], tickmode="array", tickvals=c7_tick_days,
                                     ticktext=c7_tick_text, tickangle=-90, ticks="",
                                     tickfont=dict(family=NUM, size=14, color=TXT))
layout[key("yaxis", 7)] = yaxis_base(7, range=[-2500, 1000], dtick=500, tickformat="d",
                                     tickfont=dict(family=NUM, size=15, color=TXT))
layout[key("xaxis", 8)] = xaxis_base(8, type="category", categoryorder="array", categoryarray=c8_periods,
                                     range=[-0.5, 24.5], tickangle=-90, ticks="", showline=False,
                                     tickfont=dict(family=NUM, size=13, color=TXT))
layout[key("yaxis", 8)] = yaxis_base(8, range=[0, 0.6], tickmode="array",
                                     tickvals=[0, 0.1, 0.2, 0.3, 0.4, 0.5, 0.6],
                                     ticktext=["0", "0. 1", "0. 2", "0. 3", "0. 4", "0. 5", "0. 6"],
                                     tickfont=dict(family=NUM, size=15, color=TXT))
layout[key("xaxis", 9)] = xaxis_base(9, **season_x)
layout[key("yaxis", 9)] = yaxis_base(9, range=[10, 26], dtick=2)
layout[key("xaxis", 10)] = xaxis_base(10, type="date", range=["2018-01-01", "2026-05-03"], tickmode="array",
                                      tickvals=c10_tick_dates, ticktext=c10_tick_text, tickangle=-45)
layout[key("yaxis", 10)] = yaxis_base(10, range=[0, 7], tickmode="array", tickvals=[0, 1, 2, 3, 4, 5, 6, 7],
                                      ticktext=["0. 0", "1. 0", "2. 0", "3. 0", "4. 0", "5. 0", "6. 0", "7. 0"],
                                      tickfont=dict(family=NUM, size=14, color=TXT))
x0, x1, y0, y1 = AREAS[10]
layout["yaxis11"] = dict(domain=[Y(y1), Y(y0)], anchor="x10", overlaying="y10", side="right", range=[0, 120],
                         dtick=20, showgrid=False, zeroline=False, showline=False,
                         tickfont=dict(family=NUM, size=14, color=TXT), ticklabelstandoff=10, fixedrange=True)


def legend_at(cx, cy, size=13, family=NUM, reverse=False):
    d = dict(orientation="h", x=X(cx), xanchor="center", y=Y(cy), yanchor="middle",
             font=dict(family=family, size=size, color=TXT), bgcolor="rgba(0,0,0,0)", itemwidth=30,
             tracegroupgap=0, borderwidth=0)
    if reverse:
        d["traceorder"] = "reversed"
    return d


layout["legend"] = legend_at(266, 630, 14, CJK)
layout["legend2"] = legend_at(808, 630)
layout["legend3"] = legend_at(269, 1040)
layout["legend4"] = legend_at(808, 1040)
layout["legend5"] = legend_at(268, 1456)
layout["legend7"] = legend_at(267, 1848, 12, CJK)
layout["legend8"] = legend_at(805, 1853, 12.5, reverse=True)
layout["legend9"] = legend_at(268, 2267)
layout["legend10"] = legend_at(803, 2267, 12, CJK)

shapes = []
annos = []


def rect(x0, y0, x1, y1, color, width=1, fill=None):
    shapes.append(dict(type="rect", xref="paper", yref="paper", x0=X(x0), x1=X(x1), y0=Y(y1), y1=Y(y0),
                       line=dict(color=color, width=width), fillcolor=fill or "rgba(0,0,0,0)", layer="below"))


def line(x0, y0, x1, y1, color, width=1):
    shapes.append(dict(type="line", xref="paper", yref="paper", x0=X(x0), x1=X(x1), y0=Y(y0), y1=Y(y1),
                       line=dict(color=color, width=width)))


def text(x, y, s, size, color="#000000", family=CJK, xanchor="center", bold=False):
    annos.append(dict(xref="paper", yref="paper", x=X(x), y=Y(y), text=f"<b>{s}</b>" if bold else s,
                      showarrow=False, xanchor=xanchor, yanchor="middle",
                      font=dict(family=family, size=size, color=color)))


# ---- header ----
text(6, 26, "混沌天成", 40, "#d2b384", xanchor="left")
rect(172, 3, 289, 49, "#c0a06a", 1, "#c0a06a")
text(230, 26, "研究院", 34, "#ffffff")
text(534, 25, "混沌天成白糖日报", 34, "#000000", bold=True)
line(854, 0, 854, 52, "#d9d9d9")
line(1007, 0, 1007, 52, "#d9d9d9")
text(942, 26, report_date, 25, "#000000", NUM)
text(1044, 26, report_weekday, 26, "#000000")

# ---- table ----
row_edges = [53, 88, 121, 155, 188, 221]
col_edges = [0, 211, 375, 537, 735, 853, 1080]
rect(0, row_edges[0], 1080, row_edges[1], "#e6e6e6", 0, "#e6e6e6")
for ry in row_edges:
    line(0, ry, 1080, ry, "#c9b08a", 2 if ry in (row_edges[0], row_edges[-1]) else 1.2)
for cxx in col_edges[1:-1]:
    line(cxx, row_edges[0], cxx, row_edges[-1], TAN if cxx == 537 else "#d0d0d0", 1.5 if cxx == 537 else 1)
line(1, row_edges[0], 1, row_edges[-1], "#c9b08a", 1.5)
line(1079, row_edges[0], 1079, row_edges[-1], "#c9b08a", 1.5)
heads = ["价格", "当日", "环比", "供给", "当期", "环比"]
col_centers = [(col_edges[k] + col_edges[k + 1]) / 2 for k in range(6)]
for k, hd in enumerate(heads):
    text(col_centers[k], (row_edges[0] + row_edges[1]) / 2, hd, 20, "#000000", bold=True)


def fmt(v):
    return "#N/A" if v is None else f"{v:.1f}"


row_centers = [(row_edges[k] + row_edges[k + 1]) / 2 for k in range(1, 5)]
for r in range(4):
    cy = row_centers[r]
    text(col_centers[0], cy, tbl_left_names[r], 22)
    text(col_centers[1], cy, fmt(tbl_left_today[r]), 22, "#000000", NUM)
    v = tbl_left_chg[r]
    text(col_centers[2], cy, fmt(v), 22, "#ff0000" if v is not None and v < 0 else "#000000", NUM)
    text(col_centers[3], cy, tbl_right_names[r], 22)
    v = tbl_right_now[r]
    text(col_centers[4], cy, fmt(v), 22, "#ff0000" if v is not None and v < 0 else "#000000", NUM)
    v = tbl_right_chg[r]
    text(col_centers[5], cy, fmt(v), 22, "#ff0000" if v is not None and v < 0 else "#000000", NUM)

# ---- section title bars and panels ----
sections = [
    (232, 265, "图表：白糖现货价", "图表：郑糖基差", 267, 651),
    (655, 688, "图表：仓单加预报仓单", "图表：全国工业库存", 691, 1064),
    (1068, 1101, "图表：9-1价差", "图表：巴西双周制糖比", 1104, 1475),
    (1478, 1511, "图表：巴西糖配额外进口利润", "图表：巴西双周制糖比", 1513, 1880),
    (1883, 1916, "图表：巴西乙醇折糖价", "图表：巴西白糖海运费", 1919, 2287),
]
for (sy0, sy1, lt, rt, py0, py1) in sections:
    rect(1, sy0, 537, sy1, TAN, 2)
    rect(541, sy0, 1079, sy1, TAN, 2)
    text(9, (sy0 + sy1) / 2, lt, 24, "#000000", xanchor="left", bold=True)
    text(547, (sy0 + sy1) / 2, rt, 24, "#000000", xanchor="left", bold=True)
    rect(1, py0, 529, py1, "#d9d9d9", 1)
    rect(536, py0, 1079, py1, "#d9d9d9", 1)

# ---- chart titles & units ----
titles = [(265, 292, "广西云南白糖现货价"), (805, 295, "郑糖基差"), (267, 717, "仓单加预报仓单"),
          (807, 717, "中国白糖工业库存"), (265, 1133, "9-1价差"), (803, 1134, "糖醇比价"),
          (268, 1533, "巴西白糖配额外进口利润"), (805, 1533, "巴西双周制糖比"), (266, 1945, "巴西乙醇折糖价"),
          (805, 1943, "巴西雷亚尔和巴西白糖海运费")]
for (tx, ty, tt) in titles:
    text(tx, ty, tt, 17, "#404040")
text(14, 303, "元/吨", 13, TXT, xanchor="left")
text(555, 306, "元/吨", 13, TXT, xanchor="left")
text(543, 728, "万吨", 13, TXT, xanchor="left")
text(7, 1546, "元/吨", 14, TXT, xanchor="left")
text(12, 1957, "美分/磅", 13, TXT, xanchor="left")
annos.append(dict(xref="paper", yref="paper", x=X(1057), y=Y(1956), text="美元 / 吨", showarrow=False,
                  xanchor="right", yanchor="middle", font=dict(family=CJK, size=13, color=TXT)))

# ---- footer ----
rect(1, 2290, 1079, 2322, TAN, 2)
text(9, 2306, "资料来源：同花顺，钢联，卓创资讯，路透，混沌天成研究院", 25, "#000000", xanchor="left", bold=True)

layout["shapes"] = shapes
layout["annotations"] = annos
fig.update_layout(**layout)
fig.write_html("out.html", config={"displayModeBar": False},
               post_script="document.body.style.margin='0';")
